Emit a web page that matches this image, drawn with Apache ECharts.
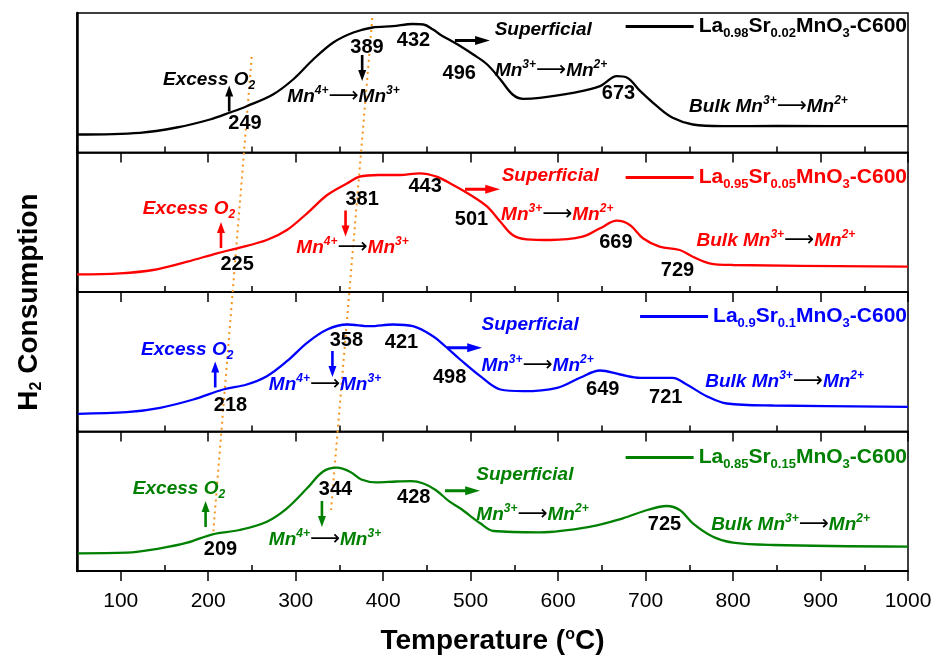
<!DOCTYPE html>
<html><head><meta charset="utf-8">
<script src="https://cdn.jsdelivr.net/npm/echarts@6/dist/echarts.min.js"></script>
<style>html,body{margin:0;padding:0;background:#fff}#c{width:938px;height:662px}</style>
</head><body><div id="c"></div>
<script>
// ---------------- data ----------------
const sampleNames = ['La0.98Sr0.02MnO3-C600','La0.95Sr0.05MnO3-C600','La0.9Sr0.1MnO3-C600','La0.85Sr0.15MnO3-C600'];
const sampleLa = ['0.98','0.95','0.9','0.85'];
const sampleSr = ['0.02','0.05','0.1','0.15'];

const tempBlack = [50,122,164,202,225,244,274,297,320,343,366,388,411,434,446,457,465,473,488,503,519,534,548,560,579,617,648,667,679,694,713,731,754,788,850,1000];
const h2Black   = [18,19.7,25,33,40,46.3,58,73,93,110,120,125,126.3,128.5,128,123,118,114,106.5,98,88,73,58,53.7,54.7,59.7,66.3,76.3,74.7,61.3,46.3,34.7,28,26.3,26.5,26.3];

const tempRed = [50,99,137,176,210,233,267,290,313,336,359,373,395,419,442,461,480,503,519,534,548,564,591,628,648,667,682,697,716,739,754,773,800,1000];
const h2Red   = [17.7,18.7,22,30.3,38.7,43.7,52,62,78.7,97,108.7,115.3,117,117,118.7,115.3,107,95.3,85.3,70.3,57,52.7,52,55.3,63.7,71.3,67,53.7,45.3,42,35.3,28.7,27,25.3];

const tempBlue = [51,107,145,183,217,244,267,290,313,336,359,385,411,434,457,470,488,511,534,560,599,625,648,671,694,731,747,770,793,846,1000];
const h2Blue   = [17.7,19.3,23.7,32,42,47,55.3,70.3,88.7,102,107,105.3,107,105.3,95.3,86,72,55.3,42,40.3,43.7,53.7,61,57,53.7,53.7,47,35.3,28,26,24.7];

const tempGreen = [51,107,145,176,205,236,267,290,313,331,347,362,375,392,415,432,446,460,476,488,511,526,579,637,674,702,724,739,754,777,800,846,1000];
const h2Green   = [17.7,18.3,22.7,28.3,36.7,41,49.3,62.7,82.7,99.3,103.3,99.3,91.5,88.7,89.5,89.8,87.5,81,69.3,62.7,47.7,40,38.7,44.3,52.7,61,65,61,47.7,34.3,28.3,26,24.3];

const tickLabels = [100,200,300,400,500,600,700,800,900,1000];
const minorTicks = [50,150,250,350,450,550,650,750,850,950];

// peak temperatures written on each curve
const peakTemps = [[249,389,432,496,673],[225,381,443,501,669,729],[218,358,421,498,649,721],[209,344,428,725]];
// where each peak number sits (temperature, signal)
const peakAnchor = [
  [[242,29],[381.5,105],[434.7,112],[487,79.5],[669,59.5]],
  [[233,27.5],[376,93],[448,105.5],[501,72.5],[666,49.5],[736.5,22]],
  [[225.5,26.5],[358,91],[421,89.5],[476,54.5],[651,42.5],[723,34.5]],
  [[214,21.5],[345.5,81.5],[435,73.5],[721.6,46.5]]
];
// text annotation anchors (temperature, signal)
const excessAnchor = [[201,73],[178,83.5],[176,82],[166.6,82.5]];
const upArrowAnchor = [[224,54],[214.6,57],[208,57],[197,57]];
const downArrowAnchor = [[376,84.5],[357,68.5],[342,67.5],[330,57]];
const mn43Anchor = [[354.7,55.5],[365,44],[333.5,46.5],[333.5,31.5]];
const rightArrowAnchor = [[502,112],[513.6,102.7],[493,83.7],[490.7,80.3]];
const superAnchor = [[583,123],[591,116.5],[568,106.5],[562,96]];
const mn32Anchor = [[592,82],[599,77.5],[576.5,65.5],[570.7,56.5]];
const bulkAnchor = [[840.5,45.5],[849,51.5],[859,49.5],[865.7,46]];

// orange guide lines (temperature, stacked panel level 0..4)
const guideTemps = [[249.7,205.8],[387.6,340.4]];
const guideLevels = [[3.685,0.28],[3.964,0.437]];

// ---------------- styling ----------------
const colors = ['#000000','#ff0000','#0000ff','#008000'];
const F = '"Liberation Sans", Arial, sans-serif';
const temps = [tempBlack,tempRed,tempBlue,tempGreen];
const h2s = [h2Black,h2Red,h2Blue,h2Green];
const gridTop = 13, panelH = 139.5, gridLeft = 77, gridRight = 30;
const legendCenter = [29,180,319,460];

function rich(color){
  return {
    t:{fontFamily:F,fontSize:19,fontWeight:'bold',fontStyle:'italic',color:color,lineHeight:24},
    sup:{fontFamily:F,fontSize:12,fontWeight:'bold',fontStyle:'italic',color:color,lineHeight:12,verticalAlign:'top'},
    sub:{fontFamily:F,fontSize:12,fontWeight:'bold',fontStyle:'italic',color:color,lineHeight:12,verticalAlign:'bottom'},
    arr:{fontFamily:'"DejaVu Sans"',fontSize:21,color:'#000',lineHeight:24},
    num:{fontFamily:F,fontSize:20,fontWeight:'bold',color:'#000',lineHeight:24}
  };
}
const arrowPath = 'path://M4,0 L8,11 L5.3,11 L5.3,26 L2.7,26 L2.7,11 L0,11 Z';

const grids = [], xAxes = [], yAxes = [], series = [], legends = [];
for (let i=0;i<4;i++){
  grids.push({left:gridLeft,right:gridRight,top:gridTop+i*panelH,height:panelH,show:true,borderColor:'#000',borderWidth:1.5});
  xAxes.push({gridIndex:i,type:'value',min:50,max:1000,
    axisLine:{show:true,onZero:false,lineStyle:{color:'#000',width:i===3?2:1.5}},
    axisTick:{show:true,inside:false,length:10,customValues:tickLabels,lineStyle:{color:'#000',width:1.5}},
    axisLabel:{show:i===3,customValues:tickLabels,formatter:v=>String(v),color:'#000',fontFamily:F,fontSize:21,margin:20},
    splitLine:{show:false},
    name: i===3 ? 'Temperature ({o|o}C)' : '',
    nameLocation:'middle', nameGap:56,
    nameTextStyle:{fontFamily:F,fontSize:28,fontWeight:'bold',color:'#000',
      rich:{o:{fontFamily:F,fontSize:16,fontWeight:'bold',color:'#000',verticalAlign:'top',lineHeight:14}}}
  });
  xAxes.push({gridIndex:i,type:'value',min:50,max:1000,
    axisLine:{show:false},axisLabel:{show:false},splitLine:{show:false},
    axisTick:{show:true,inside:false,length:6,customValues:minorTicks,lineStyle:{color:'#000',width:1.5}}});
  yAxes.push({gridIndex:i,type:'value',min:0,max:139.5,
    axisLine:{show:true,lineStyle:{color:'#000',width:2.5}},axisTick:{show:false},axisLabel:{show:false},splitLine:{show:false}});

  const c = colors[i];
  series.push({name:sampleNames[i],type:'line',xAxisIndex:2*i,yAxisIndex:i,
    data:temps[i].map((t,k)=>[t,h2s[i][k]]),smooth:0.35,showSymbol:false,
    lineStyle:{color:c,width:2.3},itemStyle:{color:c},z:3});

  // text annotations
  const items = [];
  peakTemps[i].forEach((p,k)=>items.push({value:peakAnchor[i][k],label:{formatter:'{num|'+p+'}'}}));
  items.push({value:excessAnchor[i],label:{formatter:'{t|Excess O}{sub|2}'}});
  items.push({value:mn43Anchor[i],label:{formatter:'{t|Mn}{sup|4+}{arr|⟶}{t|Mn}{sup|3+}'}});
  items.push({value:superAnchor[i],label:{formatter:'{t|Superficial}'}});
  items.push({value:mn32Anchor[i],label:{formatter:'{t|Mn}{sup|3+}{arr|⟶}{t|Mn}{sup|2+}'}});
  items.push({value:bulkAnchor[i],label:{formatter:'{t|Bulk Mn}{sup|3+}{arr|⟶}{t|Mn}{sup|2+}'}});
  series.push({name:'notes'+i,type:'scatter',xAxisIndex:2*i,yAxisIndex:i,symbolSize:0,silent:true,z:5,
    itemStyle:{opacity:1},emphasis:{disabled:true},
    label:{show:true,position:'inside',rich:rich(c)},data:items});

  // small thick arrows
  series.push({name:'arrows'+i,type:'scatter',xAxisIndex:2*i,yAxisIndex:i,silent:true,z:4,
    symbol:arrowPath,itemStyle:{color:c,opacity:1},emphasis:{disabled:true},
    data:[
      {value:upArrowAnchor[i],symbolSize:[8,26],symbolRotate:0},
      {value:downArrowAnchor[i],symbolSize:[8,26],symbolRotate:180},
      {value:rightArrowAnchor[i],symbolSize:[9,35],symbolRotate:-90}
    ]});

  legends.push({data:[{name:sampleNames[i],icon:'rect'}],right:31,top:legendCenter[i]-13,
    itemWidth:68,itemHeight:3,padding:0,selectedMode:false,
    formatter:()=>'{b|La}{s|'+sampleLa[i]+'}{b|Sr}{s|'+sampleSr[i]+'}{b|MnO}{s|3}{b|-C600}',
    textStyle:{color:c,rich:{
      b:{fontFamily:F,fontSize:21,fontWeight:'bold',color:c,lineHeight:26},
      s:{fontFamily:F,fontSize:13,fontWeight:'bold',color:c,lineHeight:13,verticalAlign:'bottom'}}}});
}

// overlay spanning all panels for the guide lines and the y title
grids.push({left:gridLeft,right:gridRight,top:gridTop,height:panelH*4,show:false});
xAxes.push({gridIndex:4,type:'value',min:50,max:1000,show:false});
yAxes.push({gridIndex:4,type:'value',min:0,max:4,
  axisLine:{show:false},axisTick:{show:false},axisLabel:{show:false},splitLine:{show:false},
  name:'{b|H}{s|2}{b| Consumption}',nameLocation:'middle',nameRotate:90,nameGap:32,
  nameTextStyle:{padding:[0,20,0,0],rich:{
    b:{fontFamily:F,fontSize:28,fontWeight:'bold',color:'#000',lineHeight:32},
    s:{fontFamily:F,fontSize:16,fontWeight:'bold',color:'#000',lineHeight:14,verticalAlign:'bottom'}}}});
guideTemps.forEach((g,k)=>{
  series.push({name:'guide'+k,type:'line',xAxisIndex:8,yAxisIndex:4,silent:true,showSymbol:false,z:2,
    data:g.map((t,j)=>[t,guideLevels[k][j]]),
    lineStyle:{color:'#f7941d',width:2,type:[2,4]}});
});

const chart = echarts.init(document.getElementById('c'),null,{renderer:'canvas'});
chart.setOption({animation:false,backgroundColor:'#fff',grid:grids,xAxis:xAxes,yAxis:yAxes,legend:legends,series:series});
</script></body></html>
